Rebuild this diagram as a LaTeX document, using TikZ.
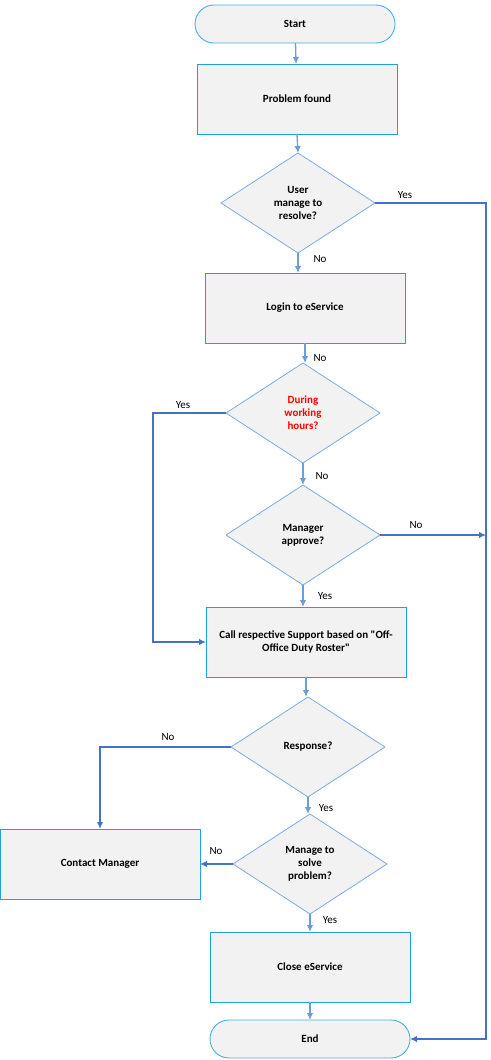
\documentclass[tikz,border=0pt]{standalone}
\usepackage{fontspec}
\setmainfont{Carlito}
\usetikzlibrary{shapes.geometric,arrows.meta}
\definecolor{boxc}{RGB}{30,160,226}
\definecolor{diac}{RGB}{125,172,225}
\definecolor{termc}{RGB}{70,175,230}
\definecolor{fillc}{RGB}{242,242,242}
\definecolor{arl}{RGB}{105,158,216}
\definecolor{ard}{RGB}{68,114,196}
\definecolor{redt}{RGB}{255,0,0}
\tikzset{
  every node/.style={font=\fontsize{11}{13}\selectfont, outer sep=0pt},
  proc/.style={draw=boxc, fill=fillc, line width=0.9pt, minimum width=200pt, minimum height=70pt, inner sep=0pt, font=\fontsize{11}{13}\selectfont\bfseries, align=center},
  term/.style={draw=termc, fill=fillc, line width=0.9pt, rounded corners=19pt, minimum width=200pt, minimum height=38pt, inner sep=0pt, font=\fontsize{11}{13}\selectfont\bfseries},
  dec/.style={diamond, draw=diac, fill=fillc, line width=0.8pt, minimum width=154pt, minimum height=100pt, inner sep=0pt, aspect=1.54, font=\fontsize{11}{13}\selectfont\bfseries, align=center},
  conl/.style={draw=arl, line width=1.3pt, -{Latex[length=7pt,width=6.5pt]}},
  cond/.style={draw=ard, line width=1.3pt, -{Latex[length=7pt,width=6.5pt]}},
  lbl/.style={font=\fontsize{11}{13}\selectfont, inner sep=0pt}
}
\begin{document}
\begin{tikzpicture}[x=1pt,y=1pt]
\useasboundingbox (0,0) rectangle (490,-1060);
\node[term] (start) at (295,-24) {Start};
\node[proc] (pf) at (297,-99) {Problem found};
\node[dec] (d1) at (298,-203) {User\\manage to\\resolve?};
\node[proc] (login) at (305,-308) {Login to eService};
\node[dec] (d2) at (303,-413) {\color{redt}During\\\color{redt}working\\\color{redt}hours?};
\node[dec] (d3) at (303,-535) {Manager\\approve?};
\node[proc] (call) at (306,-642) {Call respective Support based on \textquotedbl Off-\\Office Duty Roster\textquotedbl};
\node[dec] (resp) at (308,-747) {Response?};
\node[dec] (d5) at (310,-864) {Manage to\\solve\\problem?};
\node[proc] (cm) at (100,-864) {Contact Manager};
\node[proc] (close) at (310,-967) {Close eService};
\node[term] (end) at (310,-1039) {End};
\coordinate (rtop) at (486,-1039);
\coordinate (rmid) at (486,-535);

\draw[conl] (start) -- (pf);
\draw[conl] (pf.south) -- (d1.north);
\draw[conl] (d1.south) -- (login.north -| d1.south);
\draw[conl] (login.south) -- (d2.north -| login.south);
\draw[conl] (d2.south) -- (d3.north);
\draw[conl] (d3.south) -- (call.north -| d3.south);
\draw[conl] (call.south) -- (resp.north -| call.south);
\draw[conl] (resp.south) -- (d5.north -| resp.south);
\draw[conl] (d5.south) -- (close.north -| d5.south);
\draw[conl] (close.south) -- (end.north);
\draw[cond] (d1.east) -| (rtop) -- (end.east);
\draw[cond] (d3.east) -- (rmid);
\draw[cond] (d2.west) -- ++(-73,0) |- (call.west);
\draw[cond] (resp.west) -| (cm.north);
\draw[cond] (d5.west) -- (cm.east);

\node[lbl] (l1) at (405,-195) {Yes};
\node[lbl] (l2) at (320,-259) {No};
\node[lbl] (l3) at (320,-358) {No};
\node[lbl] (l4) at (183,-405) {Yes};
\node[lbl] (l5) at (322,-476) {No};
\node[lbl] (l6) at (416,-525) {No};
\node[lbl] (l7) at (325,-596) {Yes};
\node[lbl] (l8) at (168,-737) {No};
\node[lbl] (l9) at (326,-808) {Yes};
\node[lbl] (l10) at (216,-851) {No};
\node[lbl] (l11) at (330,-920) {Yes};
\end{tikzpicture}
\end{document}
